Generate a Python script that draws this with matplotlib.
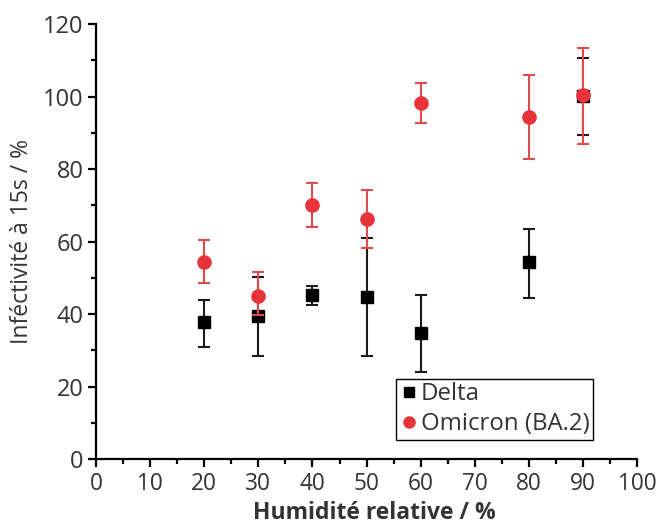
import matplotlib
matplotlib.use("Agg")
import matplotlib.pyplot as plt
from matplotlib.lines import Line2D
import numpy as np

plt.rcParams['font.family'] = ['Open Sans', 'DejaVu Sans']

rh = [20, 30, 40, 50, 60, 80, 90]
delta = [37.7, 39.4, 45.4, 44.8, 34.9, 54.3, 100.3]
delta_hi = [43.9, 50.1, 47.8, 60.9, 45.2, 63.4, 110.8]
delta_lo = [31.0, 28.4, 42.5, 28.4, 23.9, 44.5, 89.4]
omicron = [54.4, 45.0, 70.2, 66.2, 98.3, 94.4, 100.4]
omicron_hi = [60.4, 51.7, 76.1, 74.2, 103.8, 105.9, 113.4]
omicron_lo = [48.5, 39.7, 64.0, 58.3, 92.8, 82.8, 86.9]

xticks = list(range(0, 101, 10))
yticks = list(range(0, 121, 20))

fig = plt.figure(figsize=(6.57, 5.27), dpi=100)
ax = fig.add_axes([0.146, 0.129, 0.824, 0.825])

d = np.array(delta); o = np.array(omicron)
derr = [d - np.array(delta_lo), np.array(delta_hi) - d]
oerr = [o - np.array(omicron_lo), np.array(omicron_hi) - o]

red = '#e8333a'
ax.errorbar(rh, delta, yerr=derr, fmt='s', color='black', ecolor='#1a1a1a',
            markersize=8, capsize=4, elinewidth=1.5, capthick=1.5, zorder=2)
ax.errorbar(rh, omicron, yerr=oerr, fmt='o', color=red, ecolor='#e04a4a',
            markersize=9.5, capsize=4, elinewidth=1.5, capthick=1.5, zorder=3)

ax.set_xlim(0, 100)
ax.set_ylim(0, 120)
ax.set_xticks(xticks)
ax.set_yticks(yticks)
ax.set_xticks(np.arange(5, 100, 10), minor=True)
ax.set_yticks(np.arange(10, 120, 20), minor=True)
for s in ['top', 'right']:
    ax.spines[s].set_visible(False)
for s in ['left', 'bottom']:
    ax.spines[s].set_linewidth(1.6)
ax.tick_params(which='major', direction='out', length=6, width=1.6,
               colors='black', labelcolor='#333333', pad=3)
ax.tick_params(axis='y', which='major', labelsize=17)
ax.tick_params(axis='x', which='major', labelsize=16.3)
ax.tick_params(which='minor', direction='out', length=3.5, width=1.6, colors='black')

ax.set_xlabel('Humidité relative / %', fontsize=16.5, fontweight='bold', color='#333333', labelpad=4)
ax.xaxis.set_label_coords(0.515, -0.097)
ax.set_ylabel('Inféctivité à 15s / %', fontsize=16.5, color='#333333', labelpad=6)

handles = [Line2D([], [], ls='none', marker='s', color='black', markersize=7),
           Line2D([], [], ls='none', marker='o', color=red, markersize=8)]
leg = ax.legend(handles, ['Delta', 'Omicron (BA.2)'], loc='lower left',
                bbox_to_anchor=(0.554, 0.044), fontsize=17.3,
                frameon=True, fancybox=False, edgecolor='black', framealpha=1,
                handletextpad=0.1, handlelength=0.8, borderpad=0.15, labelspacing=0.25,
                borderaxespad=0)
leg.get_frame().set_linewidth(1.0)
for t in leg.get_texts():
    t.set_color('#333333')

fig.savefig('out.png', dpi=100)
